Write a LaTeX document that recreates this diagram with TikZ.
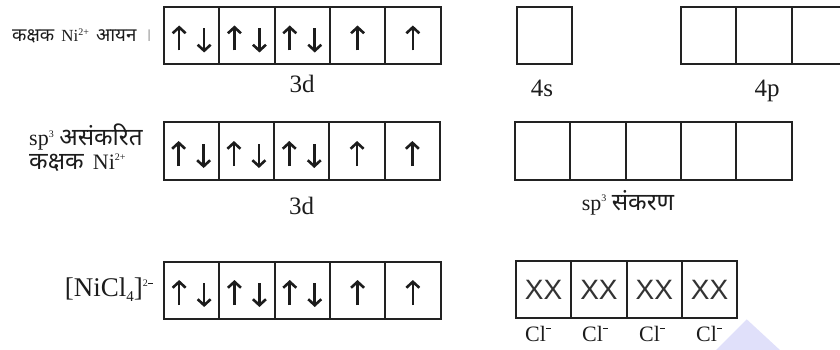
\documentclass[tikz,border=0pt]{standalone}
\usepackage{fontspec}
\setmainfont{Liberation Serif}
\newfontfamily\deva[Script=Devanagari,Scale=1.1]{Noto Sans}
\newfontfamily\xxfont{Liberation Sans}
\usetikzlibrary{arrows.meta}

\definecolor{ink}{HTML}{1C1C1C}
\definecolor{boxline}{HTML}{222222}
\definecolor{xxc}{HTML}{333333}
\definecolor{wmark}{RGB}{224,224,250}

% small raised / lowered indices
\newcommand\hiup[1]{\raisebox{0.85ex}{\fontsize{10}{10}\selectfont #1}}
\newcommand\lodown[1]{\raisebox{-0.4ex}{\fontsize{15}{15}\selectfont #1}}
\newcommand\minusup{\raisebox{1.25ex}{\rule{5pt}{1.1pt}}}

% spin arrows inside an orbital box
\newcommand\pairspin[1]{%
  \draw[spin] ([xshift=-12.5pt,yshift=-15pt]#1.center) -- ([xshift=-12.5pt,yshift=10pt]#1.center);
  \draw[spin] ([xshift=12.5pt,yshift=7pt]#1.center) -- ([xshift=12.5pt,yshift=-17pt]#1.center);}
\newcommand\onespin[1]{%
  \draw[spin] ([yshift=-15pt]#1.center) -- ([yshift=10pt]#1.center);}

\tikzset{
  orb/.style={draw=boxline, line width=2pt, minimum width=55.3pt, minimum height=57pt,
              inner sep=0pt, outer sep=0pt},
  spin/.style={draw=ink, line width=2.6pt, -{Straight Barb[length=6pt,width=13pt]}},
  lbl/.style={text=ink, inner sep=0pt, anchor=base, font=\fontsize{25}{25}\selectfont},
  cllbl/.style={lbl, font=\fontsize{22}{22}\selectfont},
  xx/.style={orb, text=xxc, font=\xxfont\fontsize{28}{28}\selectfont},
}

\begin{document}
\begin{tikzpicture}[x=1pt, y=-1pt]
\clip (0,0) rectangle (840,350);
\useasboundingbox (0,0) rectangle (840,350);

% faint watermark corner
\fill[wmark] (715,351) -- (746.7,319.3) -- (781,351) -- cycle;

% ---- row 1: Ni2+ ion ----
\node[anchor=base west, inner sep=0pt, text=ink, font=\fontsize{17}{17}\selectfont] (l1) at (12,42)
  {{\deva कक्षक}\, Ni\hiup{2+}\, {\deva आयन}\enspace{\color{gray!60}\deva ।}};
\foreach \i in {1,...,5}
  \node[orb] (a\i) at ({164+27.65+55.3*(\i-1)},35.5) {};
\pairspin{a1}\pairspin{a2}\pairspin{a3}\onespin{a4}\onespin{a5}
\node[lbl] (d1) at (302,93) {3d};
\node[orb] (s1) at (544.7,35.5) {};
\node[lbl] (s1l) at (542,96.5) {4s};
\foreach \i in {1,...,3}
  \node[orb] (p\i) at ({681+27.65+55.3*(\i-1)},35.5) {};
\node[lbl] (p1l) at (767,96.5) {4p};

% ---- row 2: sp3 hybridisation ----
\node[anchor=base west, inner sep=0pt, text=ink, font=\fontsize{22}{22}\selectfont] (l2a) at (29,145.7)
  {sp\hiup{3} {\deva असंकरित}};
\node[anchor=base west, inner sep=0pt, text=ink, font=\fontsize{22}{22}\selectfont] (l2b) at (29,169.3)
  {{\deva कक्षक}\, Ni\hiup{2+}};
\foreach \i in {1,...,5}
  \node[orb] (b\i) at ({163.5+27.65+55.3*(\i-1)},151) {};
\pairspin{b1}\pairspin{b2}\pairspin{b3}\onespin{b4}\onespin{b5}
\node[lbl] (d2) at (301.5,214.3) {3d};
\foreach \i in {1,...,5}
  \node[orb] (h\i) at ({515+27.65+55.3*(\i-1)},151) {};
\node[cllbl] (hl) at (628,210) {sp\hiup{3} {\deva संकरण}};

% ---- row 3: [NiCl4]2- ----
\node[anchor=base east, inner sep=0pt, text=ink, font=\fontsize{27}{27}\selectfont] (l3) at (153,296.7)
  {[NiCl\lodown{4}]\hiup{2\rule[0.45ex]{5pt}{0.9pt}}};
\foreach \i in {1,...,5}
  \node[orb] (c\i) at ({164+27.65+55.3*(\i-1)},290) {};
\pairspin{c1}\pairspin{c2}\pairspin{c3}\onespin{c4}\onespin{c5}
\foreach \i in {1,...,4}
  \node[xx] (x\i) at ({516+27.65+55.3*(\i-1)},289.5) {XX};
\foreach \i/\cx in {1/538,2/595,3/652,4/709}
  \node[cllbl] (cl\i) at (\cx,341.7) {Cl\minusup};
\end{tikzpicture}
\end{document}
